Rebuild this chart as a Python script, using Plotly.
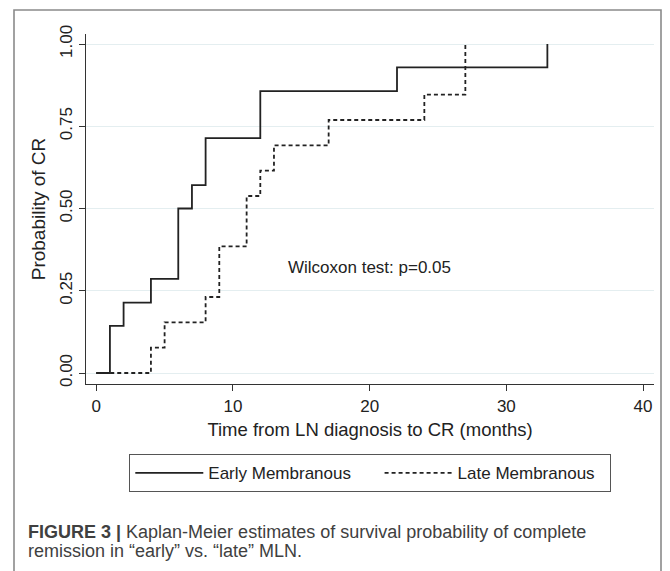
import plotly.graph_objects as go

# Data (Kaplan-Meier step estimates)
early_months = [0, 1, 2, 4, 6, 7, 8, 12, 22, 33]
early_prob = [0.0, 0.143, 0.214, 0.286, 0.500, 0.571, 0.714, 0.857, 0.929, 1.0]
late_months = [0, 4, 5, 8, 9, 11, 12, 13, 17, 24, 27]
late_prob = [0.0, 0.077, 0.154, 0.231, 0.385, 0.538, 0.615, 0.692, 0.769, 0.846, 1.0]

series_names = ["Early Membranous", "Late Membranous"]
x_ticks = [0, 10, 20, 30, 40]
y_ticks = [0, 0.25, 0.5, 0.75, 1.0]
y_ticktext = ["0.00", "0.25", "0.50", "0.75", "1.00"]

FONT = "Liberation Sans, Arial, sans-serif"
INK = "#222222"
NBSP = "\u00a0"

W, H = 670, 571
ML, MR, MT, MB = 86, 16, 34, 187
PW, PH = W - ML - MR, H - MT - MB


def px_to_paper_x(px):
    return (px - ML) / PW


def px_to_paper_y(py):
    return (H - MB - py) / PH


fig = go.Figure()
fig.add_trace(go.Scatter(
    x=early_months, y=early_prob, name=series_names[0] + NBSP * 5, mode="lines",
    line=dict(shape="hv", color=INK, width=1.8),
))
fig.add_trace(go.Scatter(
    x=late_months, y=late_prob, name=series_names[1] + NBSP * 2, mode="lines",
    line=dict(shape="hv", color=INK, width=1.8, dash="4px,3px"),
))

fig.update_layout(
    width=W, height=H,
    margin=dict(l=ML, r=MR, t=MT, b=MB, autoexpand=False),
    paper_bgcolor="white", plot_bgcolor="white",
    font=dict(family=FONT, color=INK, size=17),
    showlegend=True,
    legend=dict(
        orientation="h", x=0.5, xanchor="center",
        y=px_to_paper_y(454), yanchor="top",
        bordercolor="#555555", borderwidth=1.3,
        font=dict(size=17, family=FONT, color=INK),
        itemwidth=68,
        bgcolor="white",
    ),
    xaxis=dict(
        range=[-0.75, 40.8], tickvals=x_ticks, showgrid=False, zeroline=False,
        showline=True, linecolor="#333333", linewidth=1.2,
        ticks="outside", ticklen=6, tickcolor="#333333", tickwidth=1.2,
        tickfont=dict(size=17),
        title=dict(text="Time from LN diagnosis to CR (months)",
                   font=dict(size=18.5), standoff=8),
    ),
    yaxis=dict(
        range=[-0.0334, 1.0304], tickvals=y_ticks, ticktext=y_ticktext,
        tickangle=-90, showgrid=True, gridcolor="#e4eef0", gridwidth=1,
        zeroline=False, showline=True, linecolor="#333333", linewidth=1.2,
        ticks="outside", ticklen=6, tickcolor="#333333", tickwidth=1.2,
        tickfont=dict(size=17),
        title=dict(text="Probability of CR", font=dict(size=19), standoff=6),
    ),
)

fig.add_annotation(
    x=20, y=0.32, xref="x", yref="y", text="Wilcoxon test: p=0.05",
    showarrow=False, font=dict(size=17, family=FONT, color=INK),
)

# outer frame of the figure panel
fig.add_shape(
    type="rect", xref="paper", yref="paper",
    x0=px_to_paper_x(14), x1=px_to_paper_x(661),
    y0=px_to_paper_y(590), y1=px_to_paper_y(10),
    line=dict(color="#8a8a8a", width=1.6), fillcolor="rgba(0,0,0,0)",
    layer="below",
)

# caption
fig.add_annotation(
    xref="paper", yref="paper", x=px_to_paper_x(26), y=px_to_paper_y(532),
    xanchor="left", yanchor="middle", showarrow=False, align="left",
    text="<b>FIGURE 3 |</b> Kaplan-Meier estimates of survival probability of complete",
    font=dict(size=18, family=FONT, color="#404040"),
)
fig.add_annotation(
    xref="paper", yref="paper", x=px_to_paper_x(26), y=px_to_paper_y(551),
    xanchor="left", yanchor="middle", showarrow=False, align="left",
    text="remission in \u201cearly\u201d vs. \u201clate\u201d MLN.",
    font=dict(size=18, family=FONT, color="#404040"),
)

fig.write_html("out.html")
